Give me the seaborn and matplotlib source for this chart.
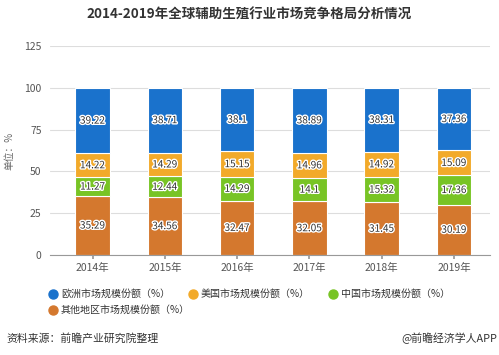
import matplotlib
matplotlib.use("Agg")
import matplotlib.pyplot as plt
import matplotlib.patheffects as pe
from matplotlib.lines import Line2D
import seaborn as sns
import numpy as np
import pandas as pd

years = ["2014年", "2015年", "2016年", "2017年", "2018年", "2019年"]
other = [35.29, 34.56, 32.47, 32.05, 31.45, 30.19]
china = [11.27, 12.44, 14.29, 14.1, 15.32, 17.36]
usa = [14.22, 14.29, 15.15, 14.96, 14.92, 15.09]
europe = [39.22, 38.71, 38.1, 38.89, 38.31, 37.36]

names = {"europe": "欧洲市场规模份额（%）", "usa": "美国市场规模份额（%）",
         "china": "中国市场规模份额（%）", "other": "其他地区市场规模份额（%）"}
colors = {"europe": "#1a72cc", "usa": "#f2aa2a", "china": "#78c425", "other": "#d4782e"}

sns.set_theme(style="white")
plt.rcParams['font.family'] = ['Noto Sans CJK SC', 'DejaVu Sans']

fig = plt.figure(figsize=(4.99, 3.55), dpi=100)
ax = fig.add_axes([50/499, 1-255/355, 440/499, (255-46)/355])

layers = [("other", other), ("china", china), ("usa", usa), ("europe", europe)]
bottom = np.zeros(len(years))
for key, vals in layers:
    df = pd.DataFrame({"year": years, "v": vals})
    sns.barplot(data=df, x="year", y="v", color=colors[key], saturation=1,
                width=0.48, bottom=bottom, edgecolor="white", linewidth=0.8, ax=ax)
    for i, v in enumerate(vals):
        ax.text(i, bottom[i] + v/2, f"{v:g}", ha="center", va="center", fontsize=7.2,
                color="#333333",
                path_effects=[pe.withStroke(linewidth=2, foreground="white")])
    bottom = bottom + np.array(vals)

ax.set_ylim(0, 125)
ax.set_xlim(-0.59, 5.5)
ax.set_yticks([0, 25, 50, 75, 100, 125])
ax.yaxis.grid(True, color="#dddddd", linewidth=0.8)
ax.set_axisbelow(True)
for s in ["top", "right", "left"]:
    ax.spines[s].set_visible(False)
ax.spines["bottom"].set_color("#999999")
ax.spines["bottom"].set_linewidth(0.8)
ax.tick_params(axis="y", length=0, labelsize=7.5, colors="#555555", pad=6)
ax.tick_params(axis="x", length=3, color="#999999", labelsize=7.5, colors="#555555", bottom=True, pad=3)
ax.set_xlabel("")
ax.set_ylabel("单位：%", fontsize=7, color="#666666", labelpad=7)

fig.text(0.5, 1-15/355, "2014-2019年全球辅助生殖行业市场竞争格局分析情况", ha="center", va="center",
         fontsize=9.7, fontweight="bold", color="#333333")

positions = {"europe": (48, 289), "usa": (188, 289), "china": (328, 289), "other": (48, 305)}
for k in ["europe", "usa", "china", "other"]:
    h = Line2D([], [], marker="o", linestyle="", markersize=6.5, color=colors[k])
    px, py = positions[k]
    leg = fig.legend([h], [names[k]], loc="upper left", bbox_to_anchor=(px/499, 1-py/355),
                     frameon=False, fontsize=7.2, handletextpad=0.3,
                     borderaxespad=0, borderpad=0, handlelength=1)
    for t in leg.get_texts():
        t.set_color("#333333")

fig.text(6/499, 1-338/355, "资料来源：前瞻产业研究院整理", ha="left", va="center", fontsize=7.8, color="#333333")
fig.text(497/499, 1-338/355, "@前瞻经济学人APP", ha="right", va="center", fontsize=7.8, color="#333333")

fig.savefig("out.png", dpi=100)
